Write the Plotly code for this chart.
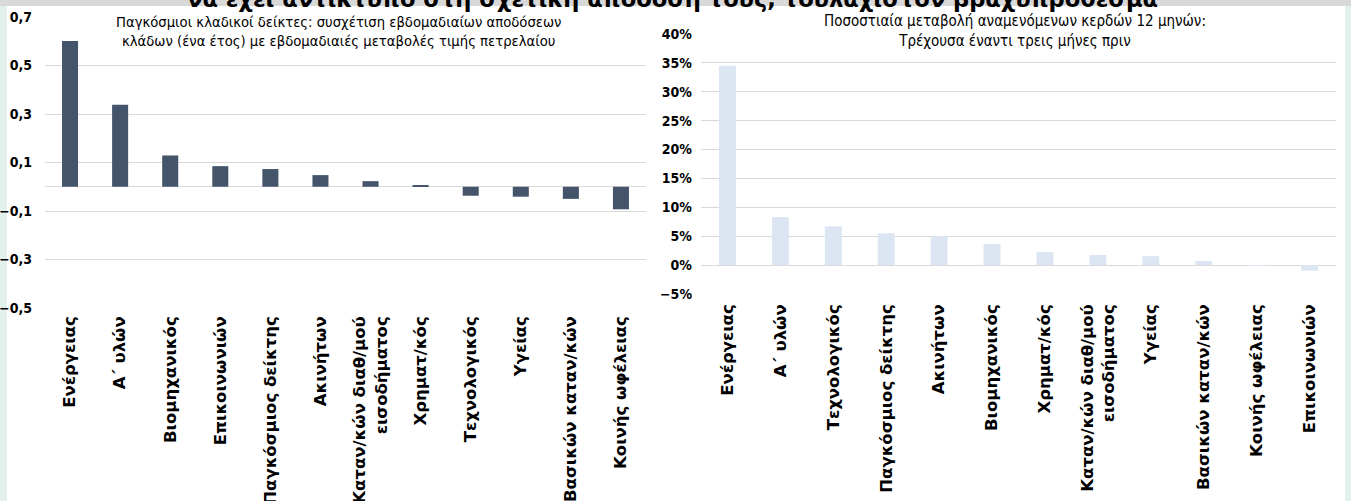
import plotly.graph_objects as go

# ---- data ----
left_categories = ["Ενέργειας", "Α΄ υλών", "Βιομηχανικός", "Επικοινωνιών", "Παγκόσμιος δείκτης",
                   "Ακινήτων", "Καταν/κών διαθ/μού<br>εισοδήματος", "Χρηματ/κός", "Τεχνολογικός",
                   "Υγείας", "Βασικών καταν/κών", "Κοινής ωφέλειας"]
left_values = [0.601, 0.338, 0.129, 0.085, 0.073, 0.048, 0.023, 0.005, -0.037, -0.041, -0.050, -0.093]

right_categories = ["Ενέργειας", "Α΄ υλών", "Τεχνολογικός", "Παγκόσμιος δείκτης", "Ακινήτων",
                    "Βιομηχανικός", "Χρηματ/κός", "Καταν/κών διαθ/μού<br>εισοδήματος", "Υγείας",
                    "Βασικών καταν/κών", "Κοινής ωφέλειας", "Επικοινωνιών"]
right_values = [34.5, 8.3, 6.7, 5.5, 5.0, 3.65, 2.25, 1.75, 1.55, 0.7, 0.02, -0.95]

left_title = "Παγκόσμιοι κλαδικοί δείκτες: συσχέτιση εβδομαδιαίων αποδόσεων<br>κλάδων (ένα έτος) με εβδομαδιαιές μεταβολές τιμής πετρελαίου"
right_title = "Ποσοστιαία μεταβολή αναμενόμενων κερδών 12 μηνών:<br>Τρέχουσα έναντι τρεις μήνες πριν"
top_title = "να έχει αντίκτυπο στη σχετική απόδοσή τους, τουλάχιστον βραχυπρόθεσμα"

W, H = 1351, 501
def px(x): return x / W
def py(y): return 1 - y / H

NARROW = "DejaVu Sans Condensed, Liberation Sans Narrow, Arial Narrow, Liberation Sans, sans-serif"
GRID = "#d9d9d9"

fig = go.Figure()
fig.add_trace(go.Bar(x=left_categories, y=left_values, marker_color="#44546a",
                     marker_line_width=0, xaxis="x", yaxis="y"))
fig.add_trace(go.Bar(x=right_categories, y=right_values, marker_color="#dce6f2",
                     marker_line_width=0, xaxis="x2", yaxis="y2"))

tickx = dict(family="DejaVu Sans, Verdana, sans-serif", size=16.5, color="#000000", weight="bold")
ticky = dict(family=NARROW, size=14, color="#000000", weight="bold")

fig.update_layout(
    width=W, height=H, margin=dict(l=0, r=0, t=0, b=0, autoexpand=False),
    paper_bgcolor="white", plot_bgcolor="white",
    showlegend=False, bargap=0.68, separators=",.",
    xaxis=dict(domain=[px(45), px(646)], anchor="y", tickangle=-90, tickfont=tickx,
               showgrid=False, showline=False, ticks="", ticklabelstandoff=4, automargin=False,
               categoryorder="array", categoryarray=left_categories),
    yaxis=dict(domain=[py(308), py(17)], anchor="x", range=[-0.5, 0.7],
               tickvals=[0.7, 0.5, 0.3, 0.1, -0.1, -0.3, -0.5], tickformat=".1f",
               tickfont=ticky, gridcolor=GRID, gridwidth=1, zeroline=True,
               zerolinecolor=GRID, zerolinewidth=1, showline=False, ticks="",
               ticklabelstandoff=12, automargin=False),
    xaxis2=dict(domain=[px(701), px(1336)], anchor="y2", tickangle=-90, tickfont=tickx,
                showgrid=False, showline=False, ticks="", ticklabelstandoff=6, automargin=False,
                categoryorder="array", categoryarray=right_categories),
    yaxis2=dict(domain=[py(294), py(34)], anchor="x2", range=[-5, 40], dtick=5,
                ticksuffix="%", tickfont=ticky, gridcolor=GRID, gridwidth=1,
                zeroline=True, zerolinecolor=GRID, zerolinewidth=1, showline=False,
                ticks="", ticklabelstandoff=8, automargin=False),
)

# side strips and top band
fig.add_shape(type="rect", xref="paper", yref="paper", x0=0, x1=px(7), y0=0, y1=1,
              fillcolor="#e2f1ee", line_width=0, layer="below")
fig.add_shape(type="rect", xref="paper", yref="paper", x0=px(1345), x1=1, y0=0, y1=1,
              fillcolor="#e2f1ee", line_width=0, layer="below")
fig.add_shape(type="rect", xref="paper", yref="paper", x0=0, x1=1, y0=py(6), y1=1,
              fillcolor="#d9d9d9", line_width=0, layer="below")

fig.add_annotation(text=top_title, xref="paper", yref="paper", x=px(672), y=py(14),
                   xanchor="center", yanchor="bottom", showarrow=False,
                   font=dict(family="DejaVu Sans, sans-serif", size=22.6, color="#000", weight="bold"))
fig.add_annotation(text=left_title, xref="paper", yref="paper", x=px(338), y=py(31),
                   xanchor="center", yanchor="middle", showarrow=False,
                   font=dict(family=NARROW, size=14.7, color="#000"))
fig.add_annotation(text=right_title, xref="paper", yref="paper", x=px(1015), y=py(31),
                   xanchor="center", yanchor="middle", showarrow=False,
                   font=dict(family=NARROW, size=15, color="#000"))

fig.write_html("out.html")
